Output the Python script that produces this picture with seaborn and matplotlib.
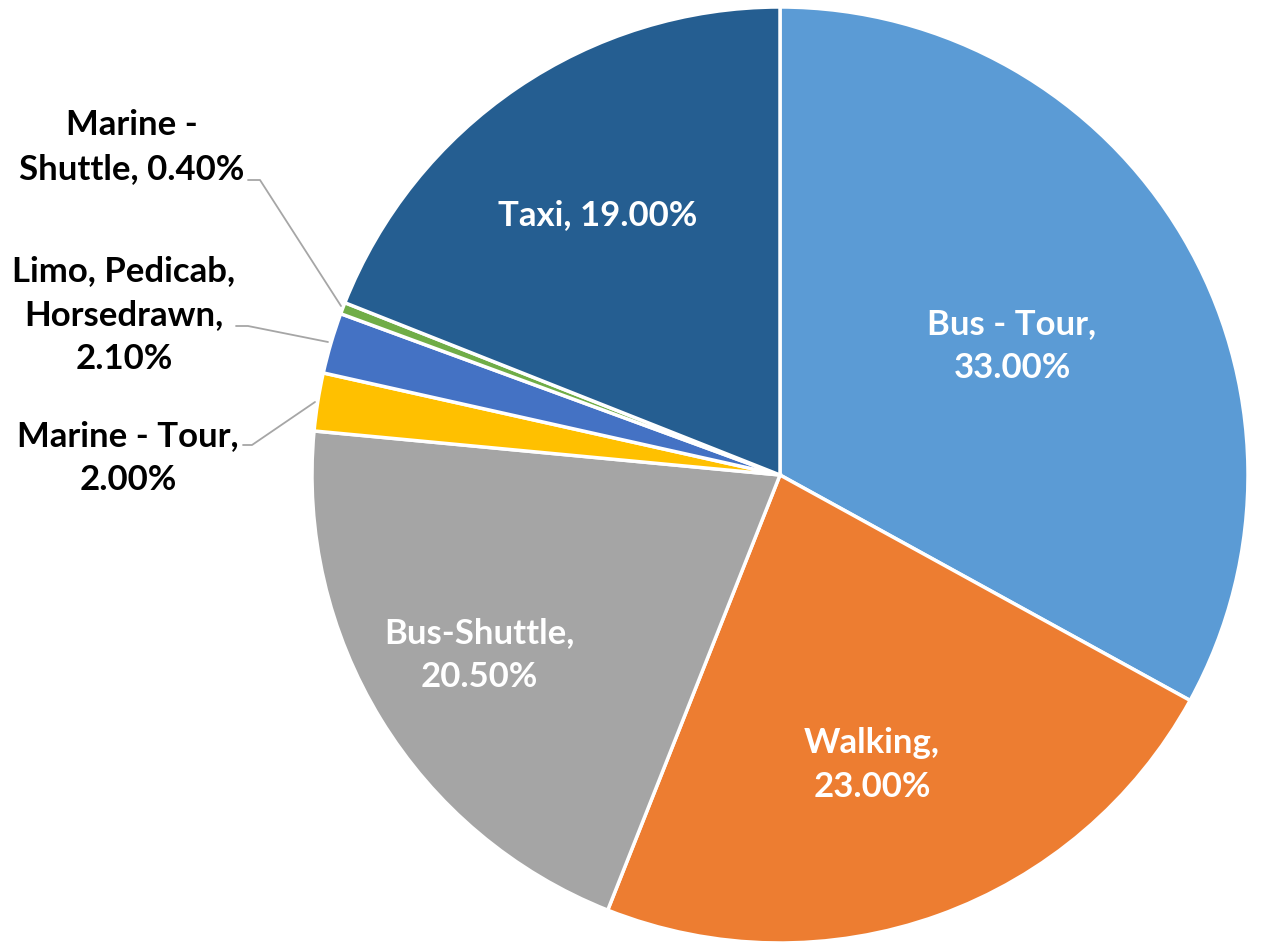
import matplotlib
matplotlib.use("Agg")
import matplotlib.pyplot as plt
import seaborn as sns

sns.set_theme(style="white")
plt.rcParams['font.family'] = ['Lato', 'DejaVu Sans']

categories = ["Bus - Tour", "Walking", "Bus-Shuttle", "Marine - Tour",
              "Limo, Pedicab, Horsedrawn", "Marine - Shuttle", "Taxi"]
values = [33.0, 23.0, 20.5, 2.0, 2.1, 0.4, 19.0]
colors = ["#5B9BD5", "#ED7D31", "#A5A5A5", "#FFC000", "#4472C4", "#70AD47", "#255E91"]

W, H = 1261, 943
fig = plt.figure(figsize=(W / 100, H / 100), dpi=100)
ax = fig.add_axes([0, 0, 1, 1])
ax.set_xlim(0, W)
ax.set_ylim(0, H)
ax.set_aspect("equal")
ax.axis("off")

cx, cy, r = 780, H - 475, 468
wedges, _ = ax.pie(values, colors=colors, startangle=90, counterclock=False,
                   center=(cx, cy), radius=r, frame=True,
                   wedgeprops=dict(edgecolor="white", linewidth=2.5))
ax.set_xlim(0, W)
ax.set_ylim(0, H)
ax.axis("off")

fs = 25
ls = 1.45
inside = {
    0: ("Bus - Tour,\n33.00%", 1012, 346),
    1: ("Walking,\n23.00%", 872, 765),
    2: ("Bus-Shuttle,\n20.50%", 479, 655),
    6: ("Taxi, 19.00%", 598, 215),
}
for i, (txt, x, y) in inside.items():
    ax.text(x, H - y, txt, color="white", fontsize=fs, fontweight="bold",
            ha="center", va="center", linespacing=ls)

outside = {
    5: ("Marine -\nShuttle, 0.40%", 132, 147, [(248, 180), (260, 180), (341, 306)]),
    4: ("Limo, Pedicab,\nHorsedrawn,\n2.10%", 124, 315, [(236, 326), (248, 326), (328, 342)]),
    3: ("Marine - Tour,\n2.00%", 128, 458, [(243, 445), (252, 445), (315, 402)]),
}
for i, (txt, x, y, pts) in outside.items():
    ax.text(x, H - y, txt, color="black", fontsize=fs, fontweight="bold",
            ha="center", va="center", linespacing=ls)
    ax.plot([p[0] for p in pts], [H - p[1] for p in pts], color="#A6A6A6", lw=1.3)

fig.savefig("out.png", dpi=100, facecolor="white")
